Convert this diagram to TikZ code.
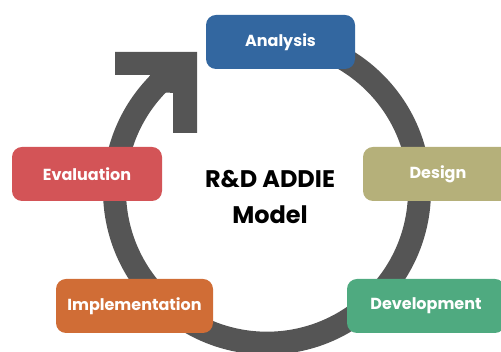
\documentclass[tikz,border=0pt]{standalone}
\usepackage{fontspec}
\setmainfont{Poppins}
\usepackage{tikz}
\usetikzlibrary{positioning}

\definecolor{ringgray}{HTML}{555555}
\definecolor{analysisblue}{HTML}{3367A0}
\definecolor{designolive}{HTML}{B5B07A}
\definecolor{devgreen}{HTML}{4FAA80}
\definecolor{implorange}{HTML}{D06D36}
\definecolor{evalred}{HTML}{D35457}

\begin{document}
\begin{tikzpicture}[x=1pt, y=1pt,
    font=\bfseries\fontsize{16}{19}\selectfont,
    phase/.style={
        rectangle,
        rounded corners=10pt,
        text=white,
        align=center,
        minimum height=54pt,
        minimum width=150pt
    },
    title/.style={
        font=\bfseries\fontsize{24}{36}\selectfont,
        text=black,
        align=center
    },
    ring/.style={draw=ringgray, line width=23pt}
]

\useasboundingbox (0,0) rectangle (501,352);
\clip (0,0) rectangle (501,352);

% ===== RING + ARROW =====
\coordinate (hub) at (267,161.3);
\draw[ring] (hub) ++(135:152.5) arc[start angle=135, end angle=470, radius=152.5];
\fill[ringgray] (115,300) -- (197,300) -- (197,219) -- (173,219) -- (173,277) -- (115,277) -- cycle;
\fill[ringgray] (149,275) -- (151,278) -- (175,278) -- (175,259) -- (165,259.5) -- cycle;

% ===== PHASES =====
\node[phase, fill=analysisblue, minimum width=149pt] (analysis) at (280.5,310) {Analysis};
\node[phase, fill=designolive] (design) at (438,178) {Design};
\node[phase, fill=devgreen, minimum width=158pt] (development) at (426,46) {Development};
\node[phase, fill=implorange, minimum width=157pt] (implementation) at (134.5,46) {Implementation};
\node[phase, fill=evalred] (evaluation) at (87,178) {Evaluation};

% ===== CENTRE =====
\node[title] (model) at (270,155) {R\&D ADDIE\\Model};

\end{tikzpicture}
\end{document}
